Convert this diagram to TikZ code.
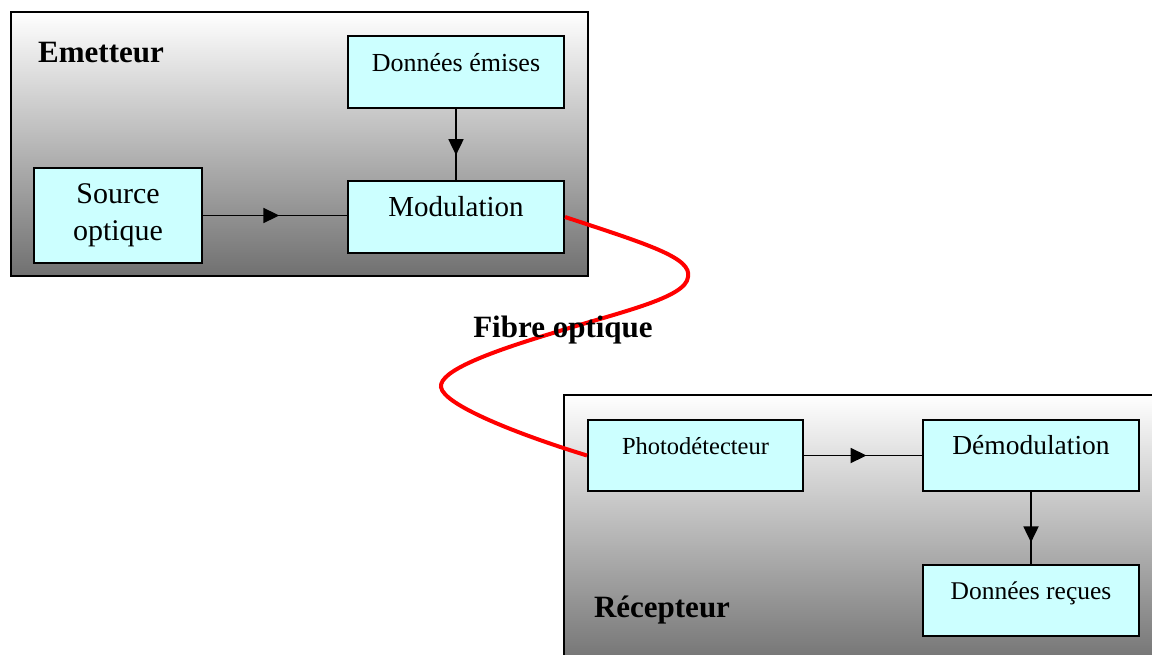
\documentclass[tikz,border=0pt]{standalone}
\usepackage{fontspec}
\setmainfont{Liberation Serif}
\usetikzlibrary{
    arrows.meta,
    positioning,
    decorations.markings
}
\definecolor{boxcyan}{RGB}{204,255,255}
\definecolor{panelgrey}{RGB}{112,112,112}

\begin{document}
\begin{tikzpicture}[
        x=1pt, y=-1pt,
        panel/.style={
            rectangle,
            draw,
            line width=2pt,
            top color=white,
            bottom color=panelgrey,
            anchor=north west
        },
        block/.style={
            rectangle,
            draw,
            line width=2pt,
            fill=boxcyan,
            align=center,
            minimum width=216pt,
            minimum height=72pt,
            font=\fontsize{26}{30}\selectfont
        },
        raised/.style={
            text height=18pt,
            text depth=20pt
        },
        title/.style={
            font=\fontsize{31}{36}\selectfont\bfseries
        },
        line/.style={
            line width=1.8pt,
            postaction={decorate},
            decoration={
                markings,
                mark=at position #1 with {\arrow{Triangle[length=16pt, width=15pt]}}
            }
        },
        fibre/.style={
            red,
            line width=4pt
        }
    ]

    \useasboundingbox (0,0) rectangle (1152,654);
    \clip (0,0) rectangle (1152,654);

    % emetteur
    \node[panel, minimum width=577pt, minimum height=264pt] (emetteur)
        at (10,11) {};
    \node[title] (emtitle) at (101,53) {Emetteur};

    \node[block, raised, anchor=north west] (emises)
        at (347,35) {Données émises};

    \node[block, raised, font=\fontsize{29}{33}\selectfont, below=71pt of emises] (modulation)
        {Modulation};

    \node[block, anchor=north west, minimum width=168pt, minimum height=95pt,
          font=\fontsize{30}{37}\selectfont] (source)
        at (33,167) {Source\\optique};

    \draw[line=0.53] (source.east) -- (source.east -| modulation.west);
    \draw[line=0.65] (emises) -- (modulation);

    % recepteur
    \node[panel, minimum width=600pt, minimum height=275pt] (recepteur)
        at (563,394) {};
    \node[title] (rectitle) at (662,610) {Récepteur};

    \node[block, raised, anchor=north west, minimum width=215pt, minimum height=71pt,
          font=\fontsize{24.5}{29}\selectfont] (photo)
        at (587,419) {Photodétecteur};

    \node[block, raised, minimum height=71pt, font=\fontsize{27.5}{32}\selectfont,
          right=118pt of photo] (demod)
        {Démodulation};

    \node[block, raised, minimum height=71pt, font=\fontsize{25.5}{30}\selectfont,
          below=72pt of demod] (recues)
        {Données reçues};

    \draw[line=0.53] (photo) -- (demod);
    \draw[line=0.7] (demod) -- (recues);

    % fibre
    \coordinate (bendA) at (688,277);
    \coordinate (cross) at (553,333);
    \coordinate (bendB) at (441,387);
    \draw[fibre] (modulation.east)
        .. controls (650,245) and (692,258) .. (bendA)
        .. controls (686,298) and (620,312) .. (cross)
        .. controls (490,352) and (439,371) .. (bendB)
        .. controls (443,405) and (520,435) .. (photo.west);

    \node[title] (fibretitle) at (563,330) {Fibre optique};

\end{tikzpicture}
\end{document}
